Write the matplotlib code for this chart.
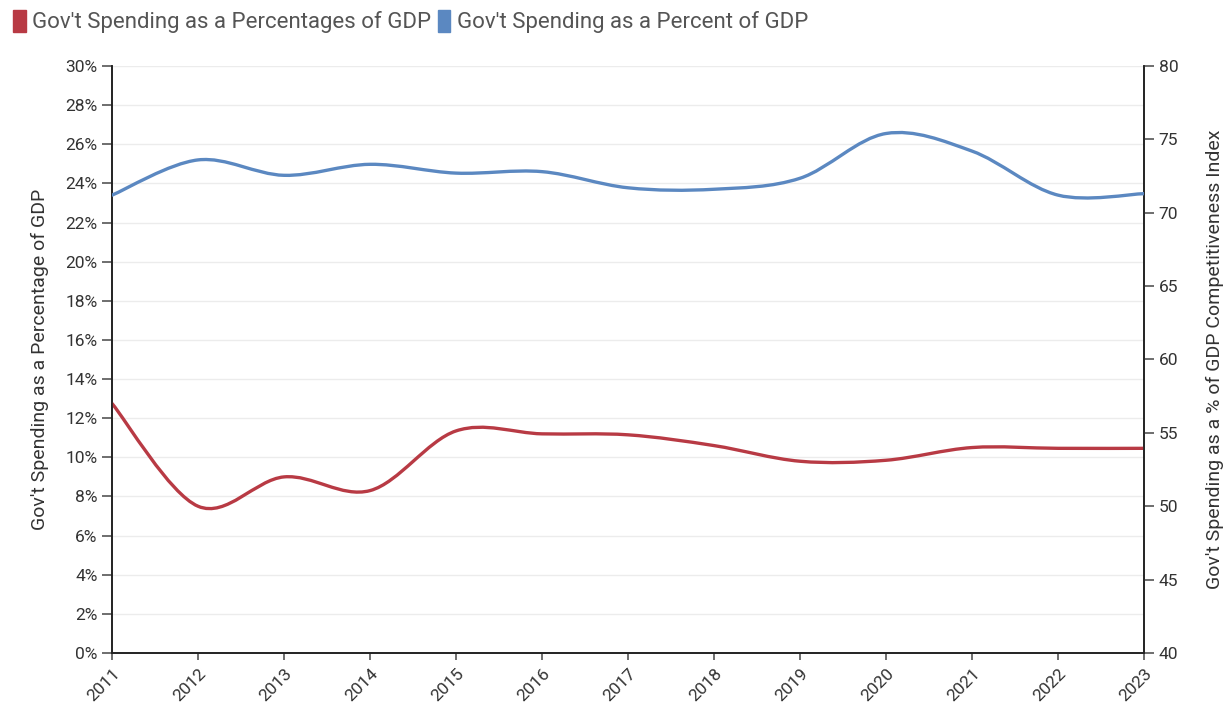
import numpy as np
import matplotlib.pyplot as plt
from matplotlib.path import Path
from matplotlib.patches import PathPatch, Patch

plt.rcParams['font.family'] = ['Roboto', 'DejaVu Sans']

years = [2011, 2012, 2013, 2014, 2015, 2016, 2017, 2018, 2019, 2020, 2021, 2022, 2023]
spending_pct = [12.75, 7.5, 9.0, 8.3, 11.35, 11.2, 11.15, 10.6, 9.8, 9.85, 10.5, 10.46, 10.46]
spending_index = [71.2, 73.6, 72.55, 73.3, 72.7, 72.8, 71.7, 71.6, 72.35, 75.4, 74.2, 71.2, 71.3]

red = '#b83a44'
blue = '#5b88c1'
label_red = "Gov't Spending as a Percentages of GDP"
label_blue = "Gov't Spending as a Percent of GDP"


def smooth_path(x, y):
    # Catmull-Rom spline as cubic bezier segments
    x = np.asarray(x, float)
    y = np.asarray(y, float)
    px = np.concatenate([[x[0]], x, [x[-1]]])
    py = np.concatenate([[y[0]], y, [y[-1]]])
    verts = [(x[0], y[0])]
    codes = [Path.MOVETO]
    for i in range(1, len(px) - 2):
        c1 = (px[i] + (px[i + 1] - px[i - 1]) / 6, py[i] + (py[i + 1] - py[i - 1]) / 6)
        c2 = (px[i + 1] - (px[i + 2] - px[i]) / 6, py[i + 1] - (py[i + 2] - py[i]) / 6)
        verts += [c1, c2, (px[i + 1], py[i + 1])]
        codes += [Path.CURVE4] * 3
    return Path(verts, codes)


fig = plt.figure(figsize=(12.3, 7.02), dpi=100)
ax = fig.add_axes([0.0911, 0.0698, 0.8390, 0.8362])
ax2 = ax.twinx()

ax.add_patch(PathPatch(smooth_path(years, spending_pct), fill=False,
                       edgecolor=red, lw=2.4, capstyle='round', zorder=3))
ax2.add_patch(PathPatch(smooth_path(years, spending_index), fill=False,
                        edgecolor=blue, lw=2.4, capstyle='round', zorder=3))

ax.set_xlim(2011, 2023)
ax.set_ylim(0, 30)
ax2.set_ylim(40, 80)
ax.set_xticks(years)
ax.set_xticklabels([str(y) for y in years], rotation=45, ha='right',
                   rotation_mode='anchor')
ax.set_yticks(range(0, 31, 2))
ax.set_yticklabels([f'{v}%' for v in range(0, 31, 2)])
ax2.set_yticks(range(40, 81, 5))

ax.grid(axis='y', color='#ececec', lw=1)
ax.set_axisbelow(True)
for a in (ax, ax2):
    a.spines['top'].set_visible(False)
    for s in ('left', 'right', 'bottom'):
        a.spines[s].set_color('#222222')
        a.spines[s].set_linewidth(1.2)
    a.tick_params(colors='#555555', labelcolor='#333333', labelsize=12.5,
                  length=7, width=1.2)
ax.tick_params(axis='x', length=5, pad=4)

ax.set_ylabel("Gov't Spending as a Percentage of GDP", fontsize=14,
              color='#333333', labelpad=12)
ax2.set_ylabel("Gov't Spending as a % of GDP Competitiveness Index",
               fontsize=14, color='#333333', labelpad=20)

handles = [Patch(facecolor=red, edgecolor=red, label=label_red),
           Patch(facecolor=blue, edgecolor=blue, label=label_blue)]
fig.legend(handles=handles, loc='upper left', bbox_to_anchor=(0.0, 1.005),
           ncol=2, frameon=False, fontsize=16, handlelength=0.55,
           handleheight=1.15, handletextpad=0.3, columnspacing=0.3,
           labelcolor='#555555', borderaxespad=0.2)

fig.savefig('out.png', dpi=100)
